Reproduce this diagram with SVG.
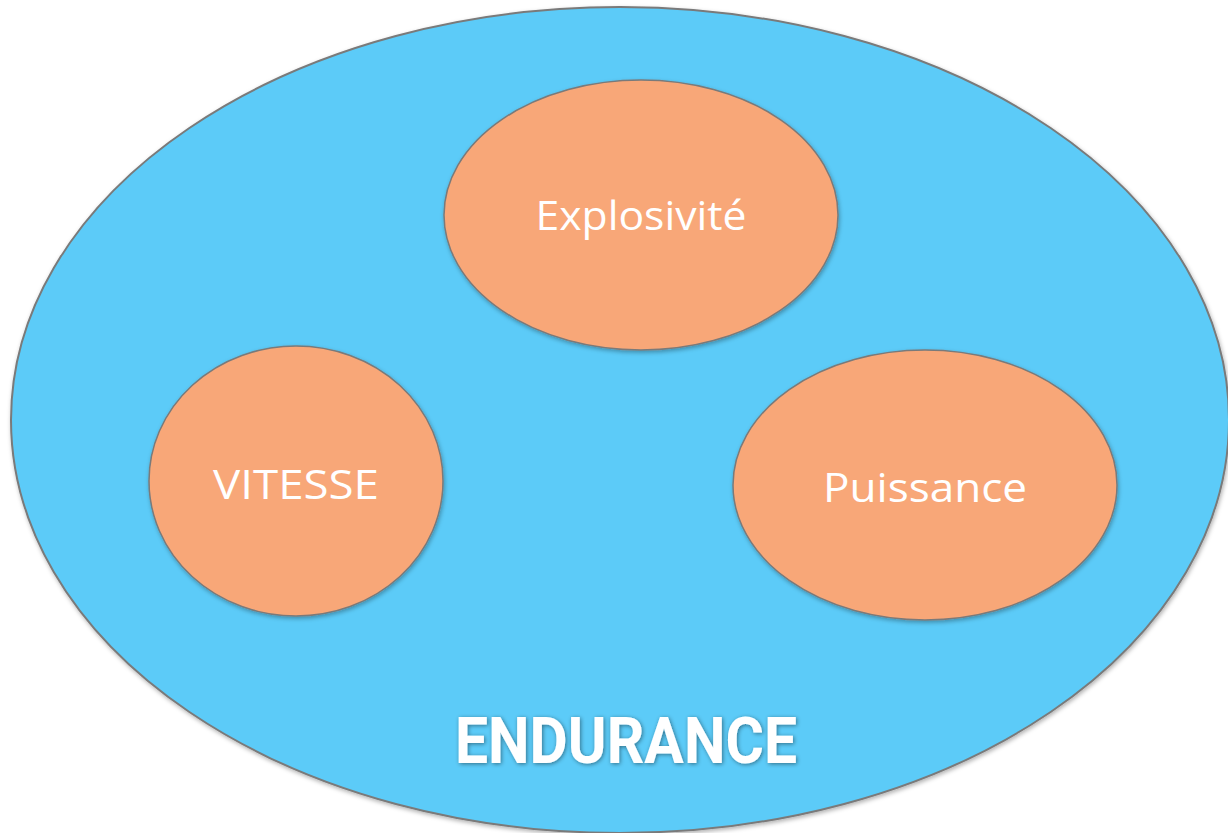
<svg xmlns="http://www.w3.org/2000/svg" width="1228" height="833" viewBox="0 0 1228 833">
<style>
.outer{fill:#5BCBF8;stroke:#7A7A7A;stroke-width:2}
.inner{fill:#F8A778;stroke:#7A7A7A;stroke-width:1.5}
.lbl{font-family:"Open Sans","Liberation Sans",sans-serif;font-size:40px;fill:#FFFFFF;text-anchor:middle}
.big{font-family:Roboto,"Liberation Sans",sans-serif;font-weight:bold;font-size:64px;fill:#FFFFFF;text-anchor:middle}
</style>
<defs>
<filter id="sh" x="-10%" y="-10%" width="120%" height="120%">
<feDropShadow dx="1" dy="2" stdDeviation="2" flood-color="#000" flood-opacity="0.3"/>
</filter>
<filter id="tsh" x="-10%" y="-20%" width="120%" height="140%">
<feDropShadow dx="1" dy="1" stdDeviation="2" flood-color="#000" flood-opacity="0.45"/>
</filter>
</defs>
<g id="endurance">
<ellipse class="outer" cx="620" cy="420" rx="609" ry="413" filter="url(#sh)"/>
<text class="big" x="626" y="763" textLength="342" lengthAdjust="spacingAndGlyphs" filter="url(#tsh)">ENDURANCE</text>
</g>
<g id="explosivite">
<ellipse class="inner" cx="641" cy="215" rx="197" ry="135" filter="url(#sh)"/>
<text class="lbl" x="641" y="230" textLength="211" lengthAdjust="spacingAndGlyphs">Explosivité</text>
</g>
<g id="vitesse">
<ellipse class="inner" cx="296" cy="481" rx="147" ry="135" filter="url(#sh)"/>
<text class="lbl" x="296" y="499" textLength="166" lengthAdjust="spacingAndGlyphs">VITESSE</text>
</g>
<g id="puissance">
<ellipse class="inner" cx="925" cy="485" rx="192" ry="135" filter="url(#sh)"/>
<text class="lbl" x="925" y="502" textLength="204" lengthAdjust="spacingAndGlyphs">Puissance</text>
</g>
<g id="connectors"></g>
</svg>
